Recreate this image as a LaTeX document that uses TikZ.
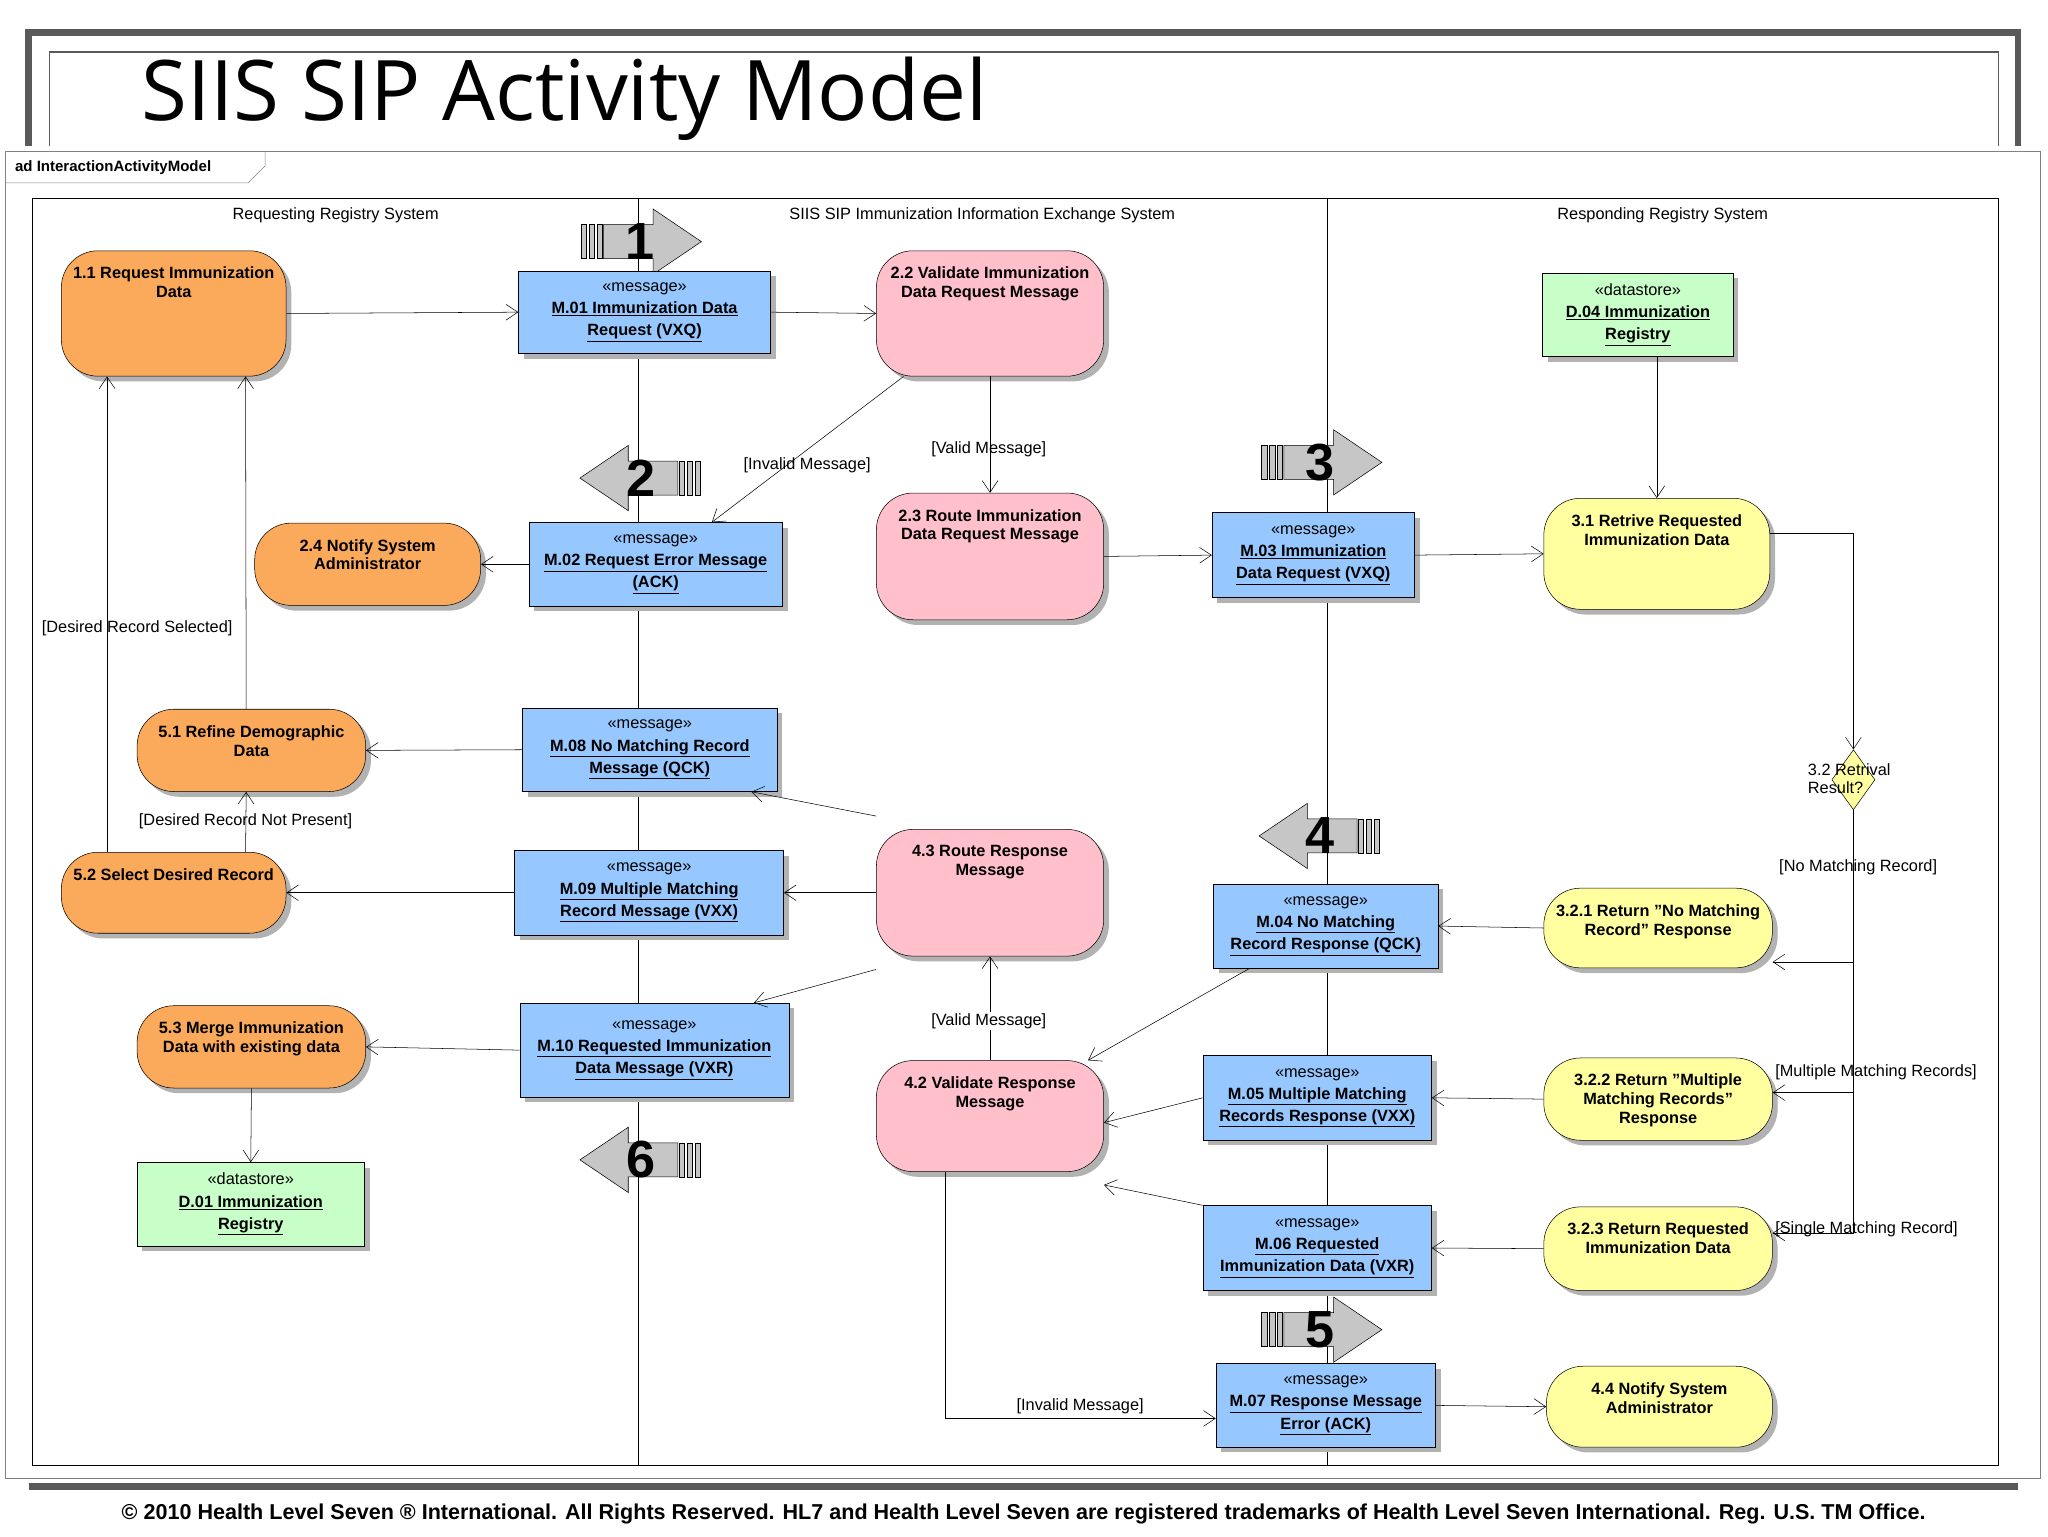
\documentclass[tikz,border=0pt]{standalone}
\usepackage{fontspec}
\setmainfont{Liberation Sans}
\newfontfamily\titlefont{Open Sans}
\usetikzlibrary{arrows.meta,shapes.geometric,shadows}

\definecolor{actorange}{RGB}{250,170,90}
\definecolor{actpink}{RGB}{255,192,203}
\definecolor{actyellow}{RGB}{255,255,160}
\definecolor{msgblue}{RGB}{150,200,255}
\definecolor{storegreen}{RGB}{200,255,200}

\tikzset{
  shade/.style={drop shadow={shadow xshift=4pt,shadow yshift=-4pt,fill=gray!60,opacity=1}},
  act/.style={draw, rounded corners=28pt, shade, inner sep=0pt},
  acttext/.style={anchor=north, yshift=-9pt, align=center, font=\bfseries\fontsize{12.5}{14.5}\selectfont},
  msg/.style={draw, fill=msgblue, shade, inner sep=0pt, align=center, font=\fontsize{12.5}{17}\selectfont},
  store/.style={msg, fill=storegreen},
  flow/.style={-{Straight Barb[length=9pt,width=12pt]}, thin},
  guard/.style={font=\fontsize{12.5}{14}\selectfont, inner sep=1pt},
  lane/.style={font=\fontsize{12.5}{14}\selectfont},
  stepnum/.style={font=\bfseries\fontsize{40}{40}\selectfont, inner sep=0pt}
}

\newcommand\stepArrow[4]{%
  \begin{scope}[shift={#2},xscale=#3]
    \foreach \bx in {-45,-39,-33}
      \draw[fill=gray!45] (\bx,-13) rectangle ++(4,26);
    \draw[fill=gray!45] (-28,-13) -- (10,-13) -- (10,-25) -- (47,0) -- (10,25) -- (10,13) -- (-28,13) -- cycle;
  \end{scope}
  \node[stepnum] (#1) at #2 {#4};}

\begin{document}
\begin{tikzpicture}[x=1pt,y=-1pt]
\useasboundingbox (0,0) rectangle (1568,1176);

% slide frame and title
\draw[line width=5pt, gray!70!black] (22,112) -- (22,25) -- (1545,25) -- (1545,112);
\draw[line width=1.2pt, gray!70!black] (38,112) -- (38,40) -- (1530,40) -- (1530,112);
\draw[line width=5pt, gray!70!black] (22,1138) -- (1545,1138);
\node[anchor=west, font=\titlefont\fontsize{64}{64}\selectfont, inner sep=0pt] (title) at (108,76) {SIIS SIP Activity Model};
\node[anchor=west, font=\bfseries\fontsize{16.5}{18}\selectfont, inner sep=0pt] (footer) at (93,1159)
  {© 2010 Health Level Seven ® International. All Rights Reserved. HL7 and Health Level Seven are registered trademarks of Health Level Seven International. Reg. U.S. TM Office.};

% diagram frame
\draw[gray, fill=white] (4,116) rectangle (1562,1132);
\draw[gray] (4,140) -- (190,140) -- (203,127) -- (203,116);
\node[anchor=west, font=\bfseries\fontsize{11.5}{13}\selectfont] (frametag) at (8,128) {ad InteractionActivityModel};
\draw (25,152) rectangle (1530,1122);
\draw (489,152) -- (489,1122);
\draw (1016,152) -- (1016,1122);
\node[lane] (lane1) at (257,165) {Requesting Registry System};
\node[lane] (lane2) at (752,165) {SIIS SIP Immunization Information Exchange System};
\node[lane] (lane3) at (1273,165) {Responding Registry System};

% step arrows
\stepArrow{s1}{(490,185)}{1}{1}
\stepArrow{s2}{(491,366)}{-1}{2}
\stepArrow{s3}{(1011,354)}{1}{3}
\stepArrow{s4}{(1011,640)}{-1}{4}
\stepArrow{s5}{(1011,1018)}{1}{5}
\stepArrow{s6}{(491,888)}{-1}{6}

% requesting registry
\node[act, fill=actorange, minimum width=172, minimum height=96, label={[acttext]north:{1.1 Request Immunization\\Data}}] (a11) at (133,240) {};
\node[act, fill=actorange, minimum width=173, minimum height=63, label={[acttext]north:{2.4 Notify System\\Administrator}}] (a24) at (281.5,432) {};
\node[act, fill=actorange, minimum width=175, minimum height=63, label={[acttext]north:{5.1 Refine Demographic\\Data}}] (a51) at (192.5,574.5) {};
\node[act, fill=actorange, minimum width=172, minimum height=62, label={[acttext]north:{5.2 Select Desired Record}}] (a52) at (133,683.5) {};
\node[act, fill=actorange, minimum width=175, minimum height=63, label={[acttext]north:{5.3 Merge Immunization\\Data with existing data}}] (a53) at (192.5,801.5) {};
\node[store, minimum width=174, minimum height=64] (d01) at (192,922) {«datastore»\\\textbf{\underline{D.01 Immunization}}\\\textbf{\underline{Registry}}};

% exchange system
\node[msg, minimum width=193, minimum height=63] (m01) at (493.5,239) {«message»\\\textbf{\underline{M.01 Immunization Data}}\\\textbf{\underline{Request (VXQ)}}};
\node[msg, minimum width=194, minimum height=64] (m02) at (502,432) {«message»\\\textbf{\underline{M.02 Request Error Message}}\\\textbf{\underline{(ACK)}}};
\node[msg, minimum width=195, minimum height=64] (m08) at (497.5,574) {«message»\\\textbf{\underline{M.08 No Matching Record}}\\\textbf{\underline{Message (QCK)}}};
\node[msg, minimum width=206, minimum height=65] (m09) at (497,683.5) {«message»\\\textbf{\underline{M.09 Multiple Matching}}\\\textbf{\underline{Record Message (VXX)}}};
\node[msg, minimum width=206, minimum height=72] (m10) at (501,804) {«message»\\\textbf{\underline{M.10 Requested Immunization}}\\\textbf{\underline{Data Message (VXR)}}};
\node[act, fill=actpink, minimum width=174, minimum height=96, label={[acttext]north:{2.2 Validate Immunization\\Data Request Message}}] (a22) at (758,240) {};
\node[act, fill=actpink, minimum width=174, minimum height=97, label={[acttext]north:{2.3 Route Immunization\\Data Request Message}}] (a23) at (758,426) {};
\node[act, fill=actpink, minimum width=174, minimum height=97, label={[acttext]north:{4.3 Route Response\\Message}}] (a43) at (758,683.5) {};
\node[act, fill=actpink, minimum width=174, minimum height=85, label={[acttext]north:{4.2 Validate Response\\Message}}] (a42) at (758,854.5) {};
\node[msg, minimum width=155, minimum height=65] (m03) at (1005.5,425) {«message»\\\textbf{\underline{M.03 Immunization}}\\\textbf{\underline{Data Request (VXQ)}}};
\node[msg, minimum width=172, minimum height=64] (m04) at (1015,709) {«message»\\\textbf{\underline{M.04 No Matching}}\\\textbf{\underline{Record Response (QCK)}}};
\node[msg, minimum width=175, minimum height=65] (m05) at (1008.5,840.5) {«message»\\\textbf{\underline{M.05 Multiple Matching}}\\\textbf{\underline{Records Response (VXX)}}};
\node[msg, minimum width=175, minimum height=65] (m06) at (1008.5,955.5) {«message»\\\textbf{\underline{M.06 Requested}}\\\textbf{\underline{Immunization Data (VXR)}}};
\node[msg, minimum width=168, minimum height=64] (m07) at (1015,1076) {«message»\\\textbf{\underline{M.07 Response Message}}\\\textbf{\underline{Error (ACK)}}};

% responding registry
\node[store, minimum width=146, minimum height=64] (d04) at (1254,241) {«datastore»\\\textbf{\underline{D.04 Immunization}}\\\textbf{\underline{Registry}}};
\node[act, fill=actyellow, minimum width=173, minimum height=85, label={[acttext]north:{3.1 Retrive Requested\\Immunization Data}}] (a31) at (1268.5,424) {};
\node[draw, fill=actyellow, diamond, minimum width=33, minimum height=46, inner sep=0pt] (dec) at (1419,597) {};
\node[guard, align=left, anchor=west] (declab) at (1383,596) {3.2 Retrival\\Result?};
\node[act, fill=actyellow, minimum width=175, minimum height=61, label={[acttext]north:{3.2.1 Return "No Matching\\Record" Response}}] (a321) at (1269.5,710.5) {};
\node[act, fill=actyellow, minimum width=175, minimum height=63, label={[acttext]north:{3.2.2 Return "Multiple\\Matching Records"\\Response}}] (a322) at (1269.5,841.5) {};
\node[act, fill=actyellow, minimum width=175, minimum height=64, label={[acttext]north:{3.2.3 Return Requested\\Immunization Data}}] (a323) at (1269.5,956) {};
\node[act, fill=actyellow, minimum width=173, minimum height=62, label={[acttext]north:{4.4 Notify System\\Administrator}}] (a44) at (1270.5,1077) {};

% flows
\draw[flow] (a11.east) -- (m01.west);
\draw[flow] (m01.east) -- (a22.west);
\draw[flow] ([xshift=21]a22.south west) -- ([xshift=43]m02.north);
\node[guard] (g1) at (618,356) {[Invalid Message]};
\draw[flow] (a22.south) -- (a23.north);
\node[guard] (g2) at (757,344) {[Valid Message]};
\draw[flow] (m02.west) -- (a24.east);
\draw[flow] (a23.east) -- (m03.west);
\draw[flow] (m03.east) -- (a31.west);
\draw[flow] (d04.south -| a31.north) -- (a31.north);
\draw[flow] ([yshift=16]a31.east) -| (dec.north);
\draw[flow] (dec.south) |- ([yshift=-26]a321.east);
\node[guard, anchor=west] (g3) at (1361,664) {[No Matching Record]};
\draw[flow] (dec.south) |- ([yshift=5]a322.east);
\node[guard, anchor=west] (g4) at (1358,821) {[Multiple Matching Records]};
\draw[flow] (dec.south) |- ([yshift=12]a323.east);
\node[guard, anchor=west] (g5) at (1358,941) {[Single Matching Record]};
\draw[flow] (a321.west) -- (m04.east);
\draw[flow] (a322.west) -- (m05.east);
\draw[flow] (a323.west) -- (m06.east);
\draw[flow] ([xshift=-58]m04.south) -- ([xshift=75]a42.north);
\draw[flow] (m05.west) -- ([yshift=-5]a42.east);
\draw[flow] (m06.north west) -- ([yshift=-10]a42.south east);
\draw[flow] (a42.north) -- (a43.south);
\node[guard, fill=white] (g6) at (757,782) {[Valid Message]};
\draw[flow] ([xshift=-34]a42.south) |- ([yshift=-10]m07.west);
\node[guard] (g7) at (827,1077) {[Invalid Message]};
\draw[flow] (m07.east) -- (a44.west);
\draw[flow] ([yshift=10]a43.north west) -- ([xshift=-20]m08.south east);
\draw[flow] (a43.west) -- (m09.east);
\draw[flow] ([yshift=-10]a43.south west) -- ([xshift=-27]m10.north east);
\draw[flow] (m08.west) -- (a51.east);
\draw[flow] (m09.west) -- (a52.east);
\draw[flow] (m10.west) -- (a53.east);
\draw[flow] (a53.south) -- (d01.north);
\draw[flow] ([xshift=-51]a52.north) -- ([xshift=-51]a11.south);
\node[guard] (g8) at (105,481) {[Desired Record Selected]};
\draw[flow] ([xshift=-4]a51.north) -- ([xshift=55]a11.south);
\draw[flow] ([xshift=55]a52.north) -- ([xshift=-4]a51.south);
\node[guard] (g9) at (188,629) {[Desired Record Not Present]};
\end{tikzpicture}
\end{document}
